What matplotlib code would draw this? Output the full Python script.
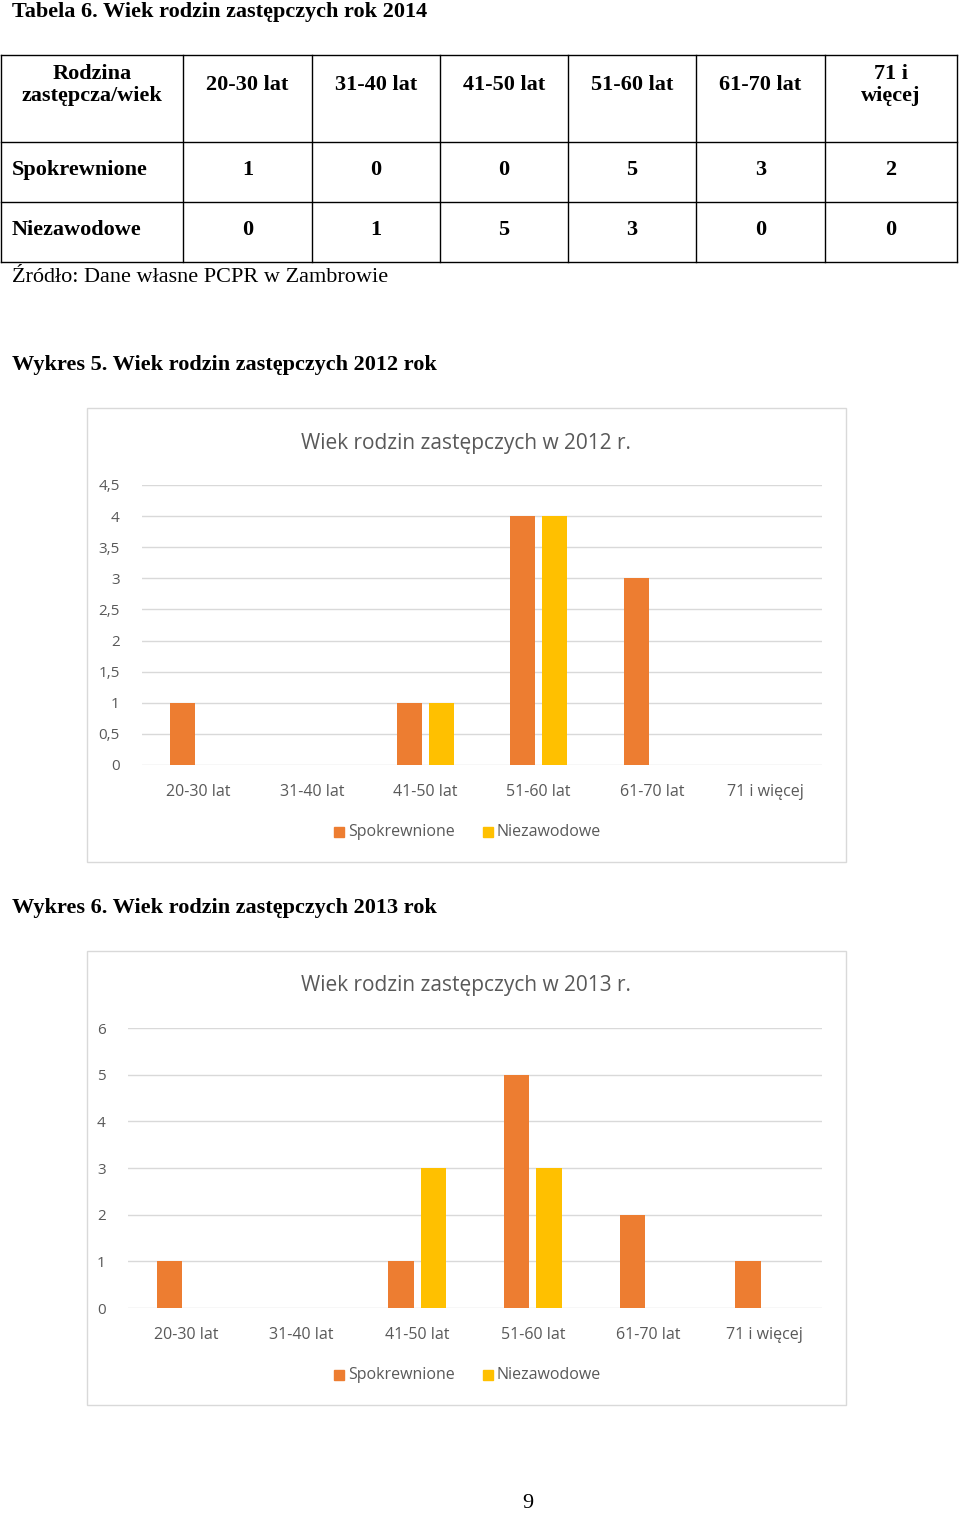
import matplotlib
matplotlib.use("Agg")
import matplotlib.pyplot as plt
from matplotlib.patches import Rectangle

W, H = 960, 1515
categories = ["20-30 lat", "31-40 lat", "41-50 lat", "51-60 lat", "61-70 lat", "71 i więcej"]
table_header = ["Rodzina\nzastępcza/wiek", "20-30 lat", "31-40 lat", "41-50 lat", "51-60 lat", "61-70 lat", "71 i\nwięcej"]
table_rows = ["Spokrewnione", "Niezawodowe"]
spok_2014 = [1, 0, 0, 5, 3, 2]
niez_2014 = [0, 1, 5, 3, 0, 0]
spok_2012 = [1, 0, 1, 4, 3, 0]
niez_2012 = [0, 0, 1, 4, 0, 0]
spok_2013 = [1, 0, 1, 5, 2, 1]
niez_2013 = [0, 0, 3, 3, 0, 0]
ticks_2012 = [0, 0.5, 1, 1.5, 2, 2.5, 3, 3.5, 4, 4.5]
ticks_2013 = [0, 1, 2, 3, 4, 5, 6]

ORANGE, YELLOW, GREY, GRID = "#ED7D31", "#FFC000", "#595959", "#D9D9D9"
SERIF = "Liberation Serif"
SANS = "Open Sans"

fig = plt.figure(figsize=(W/100, H/100), dpi=100)
bg = fig.add_axes([0, 0, 1, 1])
bg.set_xlim(0, W); bg.set_ylim(H, 0); bg.axis("off")

def T(x, y, s, **kw):
    bg.text(x, y, s, **kw)

T(12, 12, "Tabela 6. Wiek rodzin zastępczych rok 2014", fontsize=16, fontweight="bold", family=SERIF, va="center")
cols = [1, 183, 312, 440, 568, 696, 825, 957]
rows = [55, 142, 202, 262]
for x in cols:
    bg.plot([x, x], [rows[0], rows[-1]], color="black", lw=1)
for y in rows:
    bg.plot([cols[0], cols[-1]], [y, y], color="black", lw=1)
for i, h in enumerate(table_header):
    cx = (cols[i] + cols[i+1]) / 2
    T(cx, 85, h, fontsize=16, fontweight="bold", family=SERIF, ha="center", va="center", linespacing=1.1)
for r, (name, vals) in enumerate(zip(table_rows, [spok_2014, niez_2014])):
    cy = (rows[r+1] + rows[r+2]) / 2 - 2
    T(12, cy, name, fontsize=16, fontweight="bold", family=SERIF, va="center")
    for i, v in enumerate(vals):
        T((cols[i+1] + cols[i+2]) / 2, cy, str(v), fontsize=16, fontweight="bold", family=SERIF, ha="center", va="center")
T(12, 277, "Źródło: Dane własne PCPR w Zambrowie", fontsize=16, family=SERIF, va="center")
T(12, 365, "Wykres 5. Wiek rodzin zastępczych 2012 rok", fontsize=16, fontweight="bold", family=SERIF, va="center")
T(12, 908, "Wykres 6. Wiek rodzin zastępczych 2013 rok", fontsize=16, fontweight="bold", family=SERIF, va="center")
T(528, 1503, "9", fontsize=16, family=SERIF, ha="center", va="center")

def chart(box_top, title, s, n, ticks, px0, px1, py0, py1, fmt):
    bg.add_patch(Rectangle((87, box_top), 759, 454, fill=False, ec=GRID, lw=1))
    T(466, box_top + 35, title, fontsize=15, family=SANS, color=GREY, ha="center", va="center")
    ax = fig.add_axes([px0/W, 1 - py0/H, (px1-px0)/W, (py0-py1)/H])
    ax.set_xlim(-0.5, 5.5); ax.set_ylim(0, ticks[-1])
    x = range(len(categories))
    ax.bar([i - 0.14 for i in x], s, width=0.22, color=ORANGE, zorder=3)
    ax.bar([i + 0.14 for i in x], n, width=0.22, color=YELLOW, zorder=3)
    ax.set_yticks(ticks)
    ax.set_yticklabels([fmt(t) for t in ticks], family=SANS, fontsize=11, color=GREY)
    ax.set_xticks(list(x))
    ax.set_xticklabels(categories, family=SANS, fontsize=11.5, color=GREY)
    ax.tick_params(length=0, axis="y", pad=16)
    ax.tick_params(length=0, axis="x", pad=14)
    ax.grid(axis="y", color=GRID, lw=1, zorder=0)
    for sp in ax.spines.values(): sp.set_visible(False)
    ax.patch.set_alpha(0)
    ly = box_top + 424
    bg.add_patch(Rectangle((334, ly-5), 10, 10, color=ORANGE))
    T(348, ly, "Spokrewnione", fontsize=11.5, family=SANS, color=GREY, va="center")
    bg.add_patch(Rectangle((483, ly-5), 10, 10, color=YELLOW))
    T(497, ly, "Niezawodowe", fontsize=11.5, family=SANS, color=GREY, va="center")

f1 = lambda t: ("%g" % t).replace(".", ",")
chart(408, "Wiek rodzin zastępczych w 2012 r.", spok_2012, niez_2012, ticks_2012, 142, 822, 765, 485, f1)
chart(951, "Wiek rodzin zastępczych w 2013 r.", spok_2013, niez_2013, ticks_2013, 128, 822, 1308, 1028, f1)

fig.savefig("out.png", dpi=100)
